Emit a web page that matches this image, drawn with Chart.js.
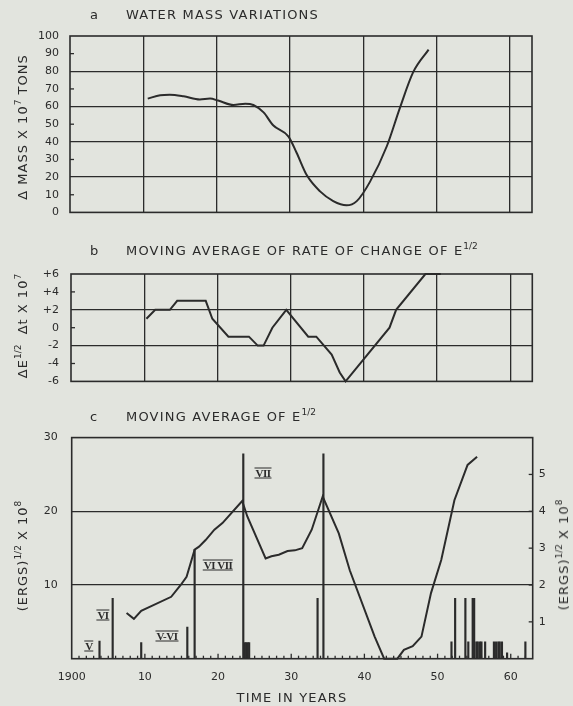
<!DOCTYPE html>
<html>
<head>
<meta charset="utf-8">
<script src="https://cdn.jsdelivr.net/npm/chart.js@4.4.0/dist/chart.umd.min.js"></script>
<style>
  body { margin:0; background:#e2e4de; width:573px; height:706px; overflow:hidden; position:relative;
         font-family:"DejaVu Sans", sans-serif; color:#2b2b2b; }
  canvas { position:absolute; left:0; }
  .t { position:absolute; font-size:13px; letter-spacing:1.2px; white-space:nowrap; line-height:16px; }
  .rot { position:absolute; white-space:nowrap; font-size:13px; letter-spacing:1px; line-height:16px;
         transform:translate(-50%,-50%) rotate(-90deg); }
  sup { font-size:9px; vertical-align:6px; line-height:0; letter-spacing:0; }
  .rn { position:absolute; transform:translate(-50%,-50%); font-family:"Liberation Serif", serif; font-weight:bold;
        font-size:11px; line-height:9px; border-top:1.3px solid #2b2b2b; border-bottom:1.3px solid #2b2b2b;
        letter-spacing:-0.5px; padding:0 1px; white-space:nowrap; }
</style>
</head>
<body>
<canvas id="chartA" width="573" height="230" style="top:0"></canvas>
<canvas id="chartB" width="573" height="170" style="top:230px"></canvas>
<canvas id="chartC" width="573" height="306" style="top:400px"></canvas>

<div class="t" style="left:90px;top:7px">a</div>
<div class="t" style="left:126px;top:7px">WATER MASS VARIATIONS</div>
<div class="t" style="left:90px;top:243px">b</div>
<div class="t" style="left:126px;top:243px">MOVING AVERAGE OF RATE OF CHANGE OF E<sup>1/2</sup></div>
<div class="t" style="left:90px;top:409px">c</div>
<div class="t" style="left:126px;top:409px">MOVING AVERAGE OF E<sup>1/2</sup></div>

<div class="rot" style="left:23px;top:127px">&Delta; MASS X 10<sup>7</sup> TONS</div>
<div class="rot" style="left:23px;top:326px">&Delta;E<sup>1/2</sup>&nbsp;&nbsp;&Delta;t X 10<sup>7</sup></div>
<div class="rot" style="left:23px;top:556px">(ERGS)<sup>1/2</sup> X 10<sup>8</sup></div>
<div class="rot" style="left:564px;top:555px">(ERGS)<sup>1/2</sup> X 10<sup>8</sup></div>
<div class="t" style="left:292px;top:690px;transform:translateX(-50%)">TIME IN YEARS</div>

<div class="rn" style="left:89px;top:646px">V</div>
<div class="rn" style="left:103px;top:615px">VI</div>
<div class="rn" style="left:167px;top:636px">V-VI</div>
<div class="rn" style="left:218px;top:565px">VI&nbsp;VII</div>
<div class="rn" style="left:263px;top:473px">VII</div>

<script>
// a: water mass variations
const massYears  = [1910.6, 1912.3, 1913.6, 1915.5, 1917.7, 1919.1, 1920.2, 1922.3, 1923.9, 1925.0, 1926.4, 1927.7,
                    1929.8, 1930.9, 1932.3, 1934.1, 1935.9, 1937.7, 1939.1, 1940.9, 1943.2, 1945.0, 1946.8, 1948.9];
const massValues = [64.5, 66.4, 66.7, 65.8, 64.0, 64.5, 63.4, 60.9, 61.6, 60.9, 56.7, 49.4,
                    43.0, 33.8, 21.0, 11.9, 6.4, 4.0, 6.4, 17.3, 37.5, 59.4, 79.5, 92.3];
const massTicks  = [0, 10, 20, 30, 40, 50, 60, 70, 80, 90, 100];

// b: moving average of rate of change of E^1/2
const rateYears  = [1910.3, 1911.5, 1913.5, 1914.5, 1918.4, 1919.3, 1921.5, 1924.3, 1925.5, 1926.3, 1927.5, 1929.4,
                    1932.4, 1933.5, 1935.6, 1936.7, 1937.5, 1943.5, 1944.4, 1948.4, 1950.5];
const rateValues = [1, 2, 2, 3, 3, 1, -1, -1, -2, -2, 0, 2,
                    -1, -1, -3, -5, -6, 0, 2, 6, 6];
const rateTicks  = [-6, -4, -2, 0, 2, 4, 6];

// c: moving average of E^1/2
const energyYears  = [1907.5, 1908.5, 1909.5, 1913.6, 1914.9, 1915.7, 1916.8, 1917.4, 1918.3, 1919.5, 1920.6, 1923.3,
                      1924.0, 1926.5, 1927.3, 1928.3, 1929.5, 1930.5, 1931.5, 1932.8, 1934.3, 1936.5, 1938.0, 1941.4,
                      1942.7, 1944.5, 1945.4, 1946.6, 1947.8, 1949.1, 1950.5, 1952.3, 1954.1, 1955.4];
const energyValues = [6.2, 5.4, 6.5, 8.4, 10.0, 11.1, 14.8, 15.2, 16.1, 17.5, 18.4, 21.4,
                      19.3, 13.6, 13.9, 14.1, 14.6, 14.7, 15.0, 17.5, 22.0, 17.0, 12.0, 3.0,
                      0, 0, 1.2, 1.7, 3.0, 8.9, 13.4, 21.5, 26.3, 27.4];
const quakeYears   = [1903.8, 1905.6, 1909.5, 1915.8, 1916.8, 1923.45, 1923.65, 1923.85, 1924.05, 1924.25,
                      1933.6, 1934.4, 1951.9, 1952.4, 1953.8, 1954.2, 1954.8, 1955.0, 1955.3, 1955.5,
                      1955.8, 1956.0, 1956.5, 1957.7, 1958.0, 1958.3, 1958.5, 1958.8, 1959.5, 1962.0];
const quakeHeights = [2.4, 8.2, 2.2, 4.3, 14.8, 27.8, 2.2, 2.2, 2.2, 2.2,
                      8.2, 27.8, 2.3, 8.2, 8.2, 2.3, 8.2, 8.2, 2.3, 2.3,
                      2.3, 2.3, 2.3, 2.3, 2.3, 2.3, 2.3, 2.3, 0.8, 2.3];
const energyTicks  = [10, 20, 30];
const rightTicks   = [1, 2, 3, 4, 5];
const yearTicks    = [1900, 1910, 1920, 1930, 1940, 1950, 1960];
const gridYears    = [1910, 1920, 1930, 1940, 1950, 1960];

const ink = '#2b2b2b';
Chart.defaults.font.family = '"DejaVu Sans", sans-serif';
Chart.defaults.font.size = 11;
Chart.defaults.color = ink;

const pts = (xs, ys) => xs.map((x, i) => ({ x: x, y: ys[i] }));
const setTicks = list => scale => { scale.ticks = list.map(v => ({ value: v })); };

// box, inward tick marks
const framePlugin = {
  id: 'frame',
  afterDraw(chart, args, opts) {
    const { ctx, chartArea: a, scales } = chart;
    const line = (x1, y1, x2, y2) => { ctx.beginPath(); ctx.moveTo(x1, y1); ctx.lineTo(x2, y2); ctx.stroke(); };
    ctx.save();
    ctx.strokeStyle = ink;
    ctx.lineWidth = 1.3;
    (opts.leftTicks || []).forEach(v => { const y = scales.y.getPixelForValue(v); line(a.left, y, a.left + 4, y); });
    (opts.rightTicks || []).forEach(v => { const y = scales.y2.getPixelForValue(v); line(a.right - 4, y, a.right, y); });
    if (opts.yearTicks) {
      for (let yr = 1901; yr <= 1962; yr++) {
        const x = scales.x.getPixelForValue(yr);
        line(x, a.bottom, x, a.bottom - (yr % 10 === 0 ? 5 : 3));
      }
    }
    ctx.lineWidth = 1.6;
    ctx.strokeRect(a.left, a.top, a.right - a.left, a.bottom - a.top);
    ctx.restore();
  }
};

const xGridScale = {
  type: 'linear', min: 1900, max: 1963,
  afterBuildTicks: setTicks(gridYears),
  ticks: { display: false },
  grid: { color: ink, lineWidth: 1.3, drawTicks: false },
  border: { display: false },
  afterFit: s => { s.height = 0; }
};

new Chart(document.getElementById('chartA'), {
  type: 'line',
  data: { datasets: [{ data: pts(massYears, massValues), borderColor: ink, borderWidth: 2, pointRadius: 0,
                       cubicInterpolationMode: 'monotone', tension: 0.4 }] },
  options: {
    responsive: false, animation: false, events: [],
    layout: { padding: { top: 36, bottom: 12, right: 41, left: 0 } },
    plugins: { legend: { display: false }, tooltip: { enabled: false }, frame: { leftTicks: [10, 30, 50, 70, 90] } },
    scales: {
      x: xGridScale,
      y: {
        min: 0, max: 100, afterBuildTicks: setTicks(massTicks),
        ticks: { padding: 11 },
        grid: { color: c => [20, 40, 60, 80].includes(c.tick.value) ? ink : 'transparent', lineWidth: 1.3, drawTicks: false },
        border: { display: false },
        afterFit: s => { s.width = 70; }
      }
    }
  },
  plugins: [framePlugin]
});

new Chart(document.getElementById('chartB'), {
  type: 'line',
  data: { datasets: [{ data: pts(rateYears, rateValues), borderColor: ink, borderWidth: 2, pointRadius: 0,
                       tension: 0, clip: 4 }] },
  options: {
    responsive: false, animation: false, events: [],
    layout: { padding: { top: 44, bottom: 16.7, right: 40.7, left: 0 } },
    plugins: { legend: { display: false }, tooltip: { enabled: false }, frame: { leftTicks: [-4, 0, 4] } },
    scales: {
      x: xGridScale,
      y: {
        min: -6, max: 6, afterBuildTicks: setTicks(rateTicks),
        ticks: { padding: 12, callback: v => (v > 0 ? '+' + v : String(v)) },
        grid: { color: c => [2, -2].includes(c.tick.value) ? ink : 'transparent', lineWidth: 1.3, drawTicks: false },
        border: { display: false },
        afterFit: s => { s.width = 71; }
      }
    }
  },
  plugins: [framePlugin]
});

new Chart(document.getElementById('chartC'), {
  type: 'line',
  data: {
    datasets: [
      { type: 'line', data: pts(energyYears, energyValues), borderColor: ink, borderWidth: 2, pointRadius: 0,
        tension: 0, clip: 3 },
      { type: 'bar', data: pts(quakeYears, quakeHeights), backgroundColor: ink, borderWidth: 0,
        barThickness: 1.5, grouped: false }
    ]
  },
  options: {
    responsive: false, animation: false, events: [],
    layout: { padding: { top: 37.6, bottom: 0, right: 0, left: 0 } },
    plugins: { legend: { display: false }, tooltip: { enabled: false }, frame: { rightTicks: rightTicks, yearTicks: true } },
    scales: {
      x: {
        type: 'linear', min: 1900, max: 1963, offset: false,
        afterBuildTicks: setTicks(yearTicks),
        ticks: { padding: 4, maxRotation: 0, autoSkip: false, callback: v => (v === 1900 ? '1900' : String(v % 100)) },
        grid: { display: false },
        border: { display: false },
        afterFit: s => { s.height = 47.3; }
      },
      y: {
        min: 0, max: 30, afterBuildTicks: setTicks(energyTicks),
        ticks: { padding: 14 },
        grid: { color: c => [10, 20].includes(c.tick.value) ? ink : 'transparent', lineWidth: 1.3, drawTicks: false },
        border: { display: false },
        afterFit: s => { s.width = 71.7; }
      },
      y2: {
        position: 'right', min: 0, max: 6, afterBuildTicks: setTicks(rightTicks),
        ticks: { padding: 6 },
        grid: { display: false, drawTicks: false },
        border: { display: false },
        afterFit: s => { s.width = 40.3; }
      }
    }
  },
  plugins: [framePlugin]
});
</script>
</body>
</html>
